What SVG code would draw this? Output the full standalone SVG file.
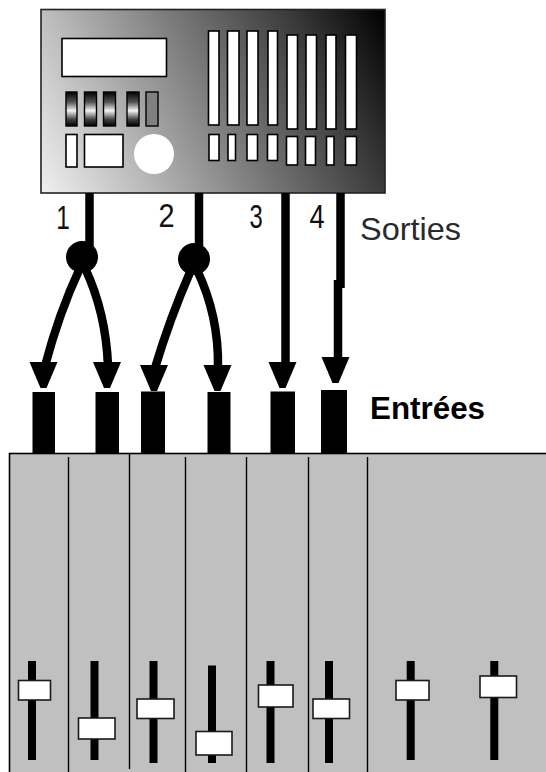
<svg xmlns="http://www.w3.org/2000/svg" width="546" height="772" viewBox="0 0 546 772">
  <defs>
    <!-- front panel shading: light at bottom-left, black at top-right -->
    <linearGradient id="panelShade" gradientUnits="userSpaceOnUse" x1="41" y1="193" x2="385" y2="9">
      <stop offset="0" stop-color="#f0f0f0"/>
      <stop offset="0.25" stop-color="#b8b8b8"/>
      <stop offset="0.5" stop-color="#7c7c7c"/>
      <stop offset="0.78" stop-color="#3a3a3a"/>
      <stop offset="1" stop-color="#000000"/>
    </linearGradient>
    <!-- rounded look of the small selector buttons -->
    <linearGradient id="buttonShade" x1="0" y1="0" x2="0" y2="1">
      <stop offset="0" stop-color="#000"/>
      <stop offset="0.3" stop-color="#555"/>
      <stop offset="0.55" stop-color="#f4f4f4"/>
      <stop offset="0.8" stop-color="#444"/>
      <stop offset="1" stop-color="#000"/>
    </linearGradient>
    <polygon id="arrowHead" points="-14,0 14,0 3,26 -3,26"/>
  </defs>
  <style>
    .win { fill: #ffffff; stroke: #000; stroke-width: 1.6; }
    .btn { fill: url(#buttonShade); stroke: #000; stroke-width: 1.4; }
    .cable { fill: none; stroke: #000; stroke-width: 8.5; }
    .jack { fill: #000; }
    .track { fill: #000; }
    .knob { fill: #ffffff; stroke: #1a1a1a; stroke-width: 1.6; }
    .divider { stroke: #000; stroke-width: 1.4; }
    .num { font-family: "Liberation Sans", Arial, sans-serif; font-size: 34px; fill: #111; text-anchor: middle; }
    .lbl { font-family: "Liberation Sans", Arial, sans-serif; font-size: 32px; }
  </style>

  <rect width="546" height="772" fill="#ffffff"/>

  <!-- sound module -->
  <g id="device">
    <rect x="41" y="9.5" width="344" height="183.5" fill="url(#panelShade)" stroke="#222" stroke-width="1.6"/>
    <rect class="win" x="62" y="38.5" width="104.5" height="38"/>
    <rect class="btn" x="66" y="92" width="11" height="34"/>
    <rect class="btn" x="84.5" y="92" width="12" height="34"/>
    <rect class="btn" x="103.5" y="92" width="12" height="34"/>
    <rect class="btn" x="127" y="92" width="12" height="34"/>
    <rect x="146" y="92" width="12" height="34" fill="#808080" stroke="#000" stroke-width="1.4"/>
    <rect class="win" x="66" y="134.5" width="11" height="32.5"/>
    <rect class="win" x="84.5" y="134.5" width="38.5" height="32.5"/>
    <circle cx="154" cy="154" r="20" fill="#ffffff"/>
    <!-- level bars -->
    <rect class="win" x="208.5" y="31" width="10.5" height="94"/>
    <rect class="win" x="227.5" y="31" width="11.5" height="94"/>
    <rect class="win" x="247" y="31" width="11" height="94"/>
    <rect class="win" x="268" y="31" width="9.5" height="94"/>
    <rect class="win" x="287" y="35" width="10.5" height="94"/>
    <rect class="win" x="306" y="35" width="10.5" height="94"/>
    <rect class="win" x="326" y="35" width="10" height="94"/>
    <rect class="win" x="345.5" y="35" width="11" height="94"/>
    <rect class="win" x="209" y="134.5" width="10" height="26"/>
    <rect class="win" x="228" y="134.5" width="7.5" height="26"/>
    <rect class="win" x="247" y="134.5" width="10.5" height="26"/>
    <rect class="win" x="267.5" y="134.5" width="10" height="26"/>
    <rect class="win" x="286.5" y="136.5" width="11" height="28.5"/>
    <rect class="win" x="305.5" y="136.5" width="10" height="28.5"/>
    <rect class="win" x="326.5" y="136.5" width="7.5" height="28.5"/>
    <rect class="win" x="345.5" y="136.5" width="11" height="28.5"/>
  </g>

  <!-- output numbers -->
  <g id="output-numbers">
    <text class="num" transform="translate(63 229) scale(0.72 1)">1</text>
    <text class="num" transform="translate(166.5 227) scale(0.85 1)">2</text>
    <text class="num" transform="translate(256 228) scale(0.7 1)">3</text>
    <text class="num" transform="translate(317 228) scale(0.8 1)">4</text>
  </g>

  <!-- cables from outputs to mixer inputs -->
  <g id="connectors">
    <!-- output 1 split in two -->
    <line class="cable" x1="89.5" y1="193" x2="89.5" y2="256" stroke-width="9"/>
    <circle cx="82" cy="257" r="16" fill="#000"/>
    <path class="cable" d="M 80 268 Q 59 313 45 366"/>
    <path class="cable" d="M 85 268 Q 106 313 108 366"/>
    <use href="#arrowHead" x="43.5" y="362"/>
    <use href="#arrowHead" x="107" y="362"/>

    <!-- output 2 split in two -->
    <line class="cable" x1="199" y1="193" x2="199" y2="258" stroke-width="8.5"/>
    <circle cx="194" cy="259" r="16" fill="#000"/>
    <path class="cable" d="M 191 270 Q 170 318 155 368"/>
    <path class="cable" d="M 197 270 Q 219 316 218 368"/>
    <use href="#arrowHead" x="154" y="365"/>
    <use href="#arrowHead" x="217.5" y="365"/>

    <!-- output 3 -->
    <line class="cable" x1="285.5" y1="193" x2="285.5" y2="366" stroke-width="7.5"/>
    <use href="#arrowHead" x="282.5" y="362"/>

    <!-- output 4 -->
    <line class="cable" x1="340.5" y1="193" x2="340.5" y2="288" stroke-width="9"/>
    <line class="cable" x1="338" y1="280" x2="338" y2="360" stroke-width="9"/>
    <use href="#arrowHead" x="335.5" y="357"/>
  </g>

  <!-- mixer input jacks -->
  <g id="inputs">
    <rect class="jack" x="32.5" y="392" width="22.5" height="62"/>
    <rect class="jack" x="95.5" y="392" width="23.5" height="62"/>
    <rect class="jack" x="141" y="391.5" width="24" height="62.5"/>
    <rect class="jack" x="207.5" y="392" width="23" height="62"/>
    <rect class="jack" x="270.5" y="391.5" width="24.5" height="62.5"/>
    <rect class="jack" x="321" y="390" width="26" height="64"/>
  </g>

  <!-- mixing desk -->
  <g id="mixer">
    <rect x="9.5" y="453.5" width="540" height="322" fill="#c0c0c0" stroke="#000" stroke-width="1.6"/>
    <line class="divider" x1="68.5" y1="457" x2="68.5" y2="772"/>
    <line class="divider" x1="129.5" y1="453.5" x2="129.5" y2="769"/>
    <line class="divider" x1="185.5" y1="457" x2="185.5" y2="772"/>
    <line class="divider" x1="246.5" y1="457" x2="246.5" y2="772"/>
    <line class="divider" x1="308.5" y1="457" x2="308.5" y2="772"/>
    <line class="divider" x1="367.5" y1="457" x2="367.5" y2="772"/>

    <g id="fader-1">
      <rect class="track" x="28" y="661" width="8" height="99"/>
      <rect class="knob" x="18.5" y="680.5" width="32" height="19.5"/>
    </g>
    <g id="fader-2">
      <rect class="track" x="90.5" y="661" width="8" height="99"/>
      <rect class="knob" x="78.5" y="718" width="36.5" height="21"/>
    </g>
    <g id="fader-3">
      <rect class="track" x="149.5" y="661" width="8" height="102"/>
      <rect class="knob" x="137" y="699" width="37" height="19.5"/>
    </g>
    <g id="fader-4">
      <rect class="track" x="208" y="665.5" width="8" height="97.5"/>
      <rect class="knob" x="196" y="731.5" width="36" height="23.5"/>
    </g>
    <g id="fader-5">
      <rect class="track" x="266.5" y="661" width="8" height="102"/>
      <rect class="knob" x="258.5" y="685" width="34.5" height="22"/>
    </g>
    <g id="fader-6">
      <rect class="track" x="325" y="661" width="8" height="102"/>
      <rect class="knob" x="313" y="699" width="36.5" height="19.5"/>
    </g>
    <g id="fader-7">
      <rect class="track" x="406.7" y="661" width="8" height="99"/>
      <rect class="knob" x="396" y="680.5" width="33" height="19.5"/>
    </g>
    <g id="fader-8">
      <rect class="track" x="490.3" y="661" width="8" height="99"/>
      <rect class="knob" x="480" y="676" width="36.5" height="21.5"/>
    </g>
  </g>

  <!-- captions -->
  <g id="captions">
    <text class="lbl" x="360" y="240" fill="#2a2a2a" textLength="101" lengthAdjust="spacingAndGlyphs">Sorties</text>
    <text class="lbl" x="370" y="418.5" font-weight="bold" font-size="34" fill="#000" textLength="115" lengthAdjust="spacingAndGlyphs">Entrées</text>
  </g>
</svg>
